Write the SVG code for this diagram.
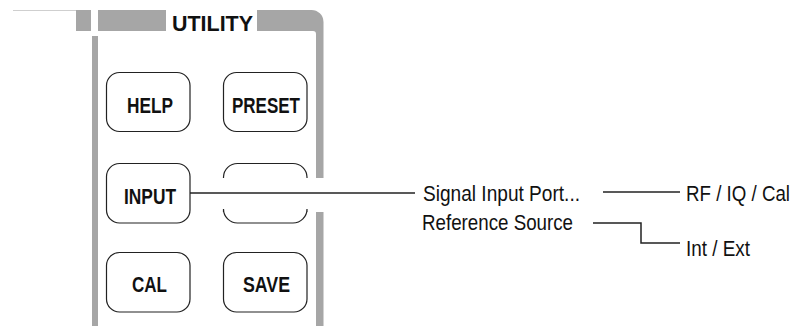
<svg xmlns="http://www.w3.org/2000/svg" width="795" height="326" viewBox="0 0 795 326">
<style>
.panel{fill:#a6a6a6;stroke:none}
.btn{fill:#fff;stroke:#222;stroke-width:1.2}
.btxt{font-family:"Liberation Sans Narrow","Liberation Sans",Arial,sans-serif;font-weight:bold;font-size:22px;fill:#111}
.ltxt{font-family:"Liberation Sans Narrow","Liberation Sans",Arial,sans-serif;font-size:22.5px;fill:#111}
.conn{fill:none;stroke:#222;stroke-width:1.5}
</style>
<rect x="0" y="0" width="795" height="326" fill="#fff"/>
<g id="panel">
<line x1="13" y1="10.5" x2="76" y2="10.5" stroke="#cfcfcf" stroke-width="1"/>
<rect class="panel" x="76" y="10" width="15" height="21"/>
<rect class="panel" x="98" y="10" width="68" height="21"/>
<path class="panel" d="M257,10 H311 A12,12 0 0 1 323.5,22 V178 H316 V34 A3,3 0 0 0 313,31 H257 Z"/>
<rect class="panel" x="316" y="212" width="7.5" height="114"/>
<rect class="panel" x="92" y="36" width="6" height="290"/>
<text class="btxt" x="172" y="30.5" textLength="81" lengthAdjust="spacingAndGlyphs">UTILITY</text>
</g>
<g id="help">
<rect class="btn" x="106.5" y="72.5" width="83.5" height="59" rx="13"/>
<text class="btxt" x="127" y="112.5" textLength="46" lengthAdjust="spacingAndGlyphs">HELP</text>
</g>
<g id="preset">
<rect class="btn" x="223.5" y="72.5" width="83.5" height="59" rx="13"/>
<text class="btxt" x="232" y="112.5" textLength="68" lengthAdjust="spacingAndGlyphs">PRESET</text>
</g>
<g id="input">
<rect class="btn" x="106.5" y="163.5" width="83.5" height="59.5" rx="13"/>
<text class="btxt" x="124" y="203.5" textLength="52" lengthAdjust="spacingAndGlyphs">INPUT</text>
</g>
<g id="blank">
<path class="btn" fill="none" d="M223.5,178 V177 A14,14 0 0 1 237.5,163.5 H293 A14,14 0 0 1 307,177 V178"/>
<path class="btn" fill="none" d="M223.5,212 V209 A14,14 0 0 0 237.5,223 H293 A14,14 0 0 0 307,209 V212"/>
</g>
<g id="cal">
<rect class="btn" x="106.5" y="252.5" width="83.5" height="59.5" rx="13"/>
<text class="btxt" x="132" y="291.5" textLength="35" lengthAdjust="spacingAndGlyphs">CAL</text>
</g>
<g id="save">
<rect class="btn" x="223.5" y="252.5" width="83.5" height="59.5" rx="13"/>
<text class="btxt" x="243" y="291.5" textLength="47" lengthAdjust="spacingAndGlyphs">SAVE</text>
</g>
<g id="signal-input-port">
<text class="ltxt" x="423" y="200.5" textLength="157" lengthAdjust="spacingAndGlyphs">Signal Input Port...</text>
</g>
<g id="reference-source">
<text class="ltxt" x="422" y="229.5" textLength="151" lengthAdjust="spacingAndGlyphs">Reference Source</text>
</g>
<g id="rf-iq-cal">
<text class="ltxt" x="686" y="200.5" textLength="104" lengthAdjust="spacingAndGlyphs">RF / IQ / Cal</text>
</g>
<g id="int-ext">
<text class="ltxt" x="686" y="255.5" textLength="64" lengthAdjust="spacingAndGlyphs">Int / Ext</text>
</g>
<g id="connectors">
<path class="conn" d="M190,193 H415"/>
<path class="conn" d="M603,192 H680"/>
<path class="conn" d="M593,223 H641 V243 H680"/>
</g>
</svg>
